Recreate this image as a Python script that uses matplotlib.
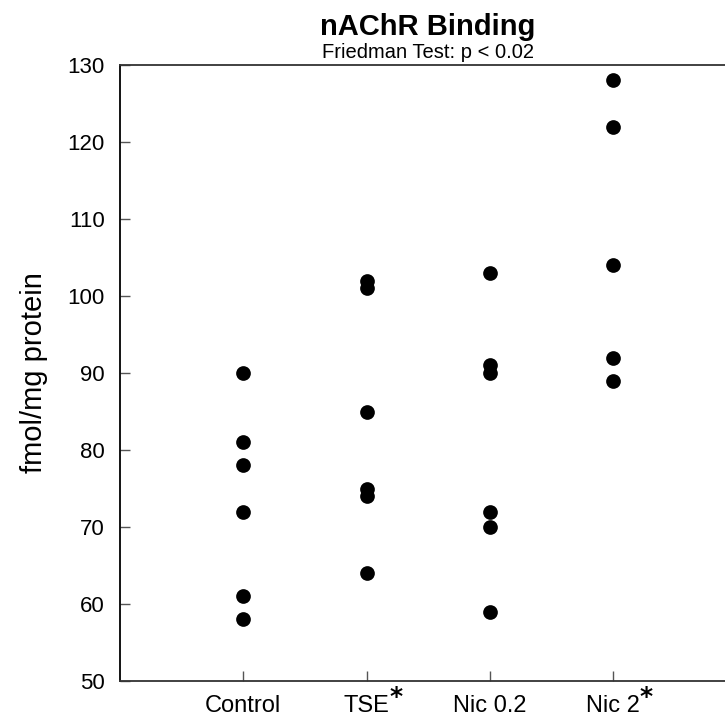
import numpy as np
import matplotlib
matplotlib.use("Agg")
import matplotlib.pyplot as plt

plt.rcParams['font.family'] = ['Liberation Sans', 'DejaVu Sans']

groups = ['Control', 'TSE', 'Nic 0.2', 'Nic 2']
starred = [False, True, False, True]
control = [90, 81, 78, 72, 61, 58]
tse = [102, 101, 85, 75, 74, 64]
nic02 = [103, 91, 90, 72, 70, 59]
nic2 = [128, 122, 104, 92, 89]
values = [control, tse, nic02, nic2]

fig = plt.figure(figsize=(7.25, 7.17), dpi=100)
ax = fig.add_axes([120/725, 1 - 681/717, 740/725, 616/717])

for i, v in enumerate(values):
    ax.scatter([i + 1] * len(v), v, s=112, color='black', zorder=3, linewidths=0)

ax.set_xlim(0, 6)
ax.set_ylim(50, 130)
ax.set_yticks(np.arange(50, 131, 10))
ax.set_xticks([1, 2, 3, 4])
ax.set_xticklabels(groups, fontsize=17)
for lbl in ax.get_xticklabels():
    lbl.set_va('baseline')
ax.tick_params(axis='y', labelsize=16, direction='in', length=7, width=1, color='#555555', pad=11)
ax.tick_params(axis='x', direction='in', length=7, width=1, color='#555555', pad=22)
ax.spines['right'].set_visible(False)
for s in ['left', 'bottom', 'top']:
    ax.spines[s].set_linewidth(1.3)
ax.spines['left'].set_color('black')
ax.spines['bottom'].set_color('#333333')
ax.spines['top'].set_color('#333333')

ax.set_ylabel('fmol/mg protein', fontsize=21, labelpad=14)

fig.text(428/725, 1 - 27/717, 'nAChR Binding', fontsize=21, fontweight='bold',
         ha='center', va='center')
fig.text(428/725, 1 - 53/717, 'Friedman Test: p < 0.02', fontsize=14.5,
         ha='center', va='center')

# bold asterisks after the starred group labels
fig.canvas.draw()
renderer = fig.canvas.get_renderer()
for lbl, star in zip(ax.get_xticklabels(), starred):
    if star:
        bb = lbl.get_window_extent(renderer)
        fig.text((bb.x1 - 0.5) / 725, (bb.y1 - 2) / 717, '*', fontsize=18,
                 fontweight='bold', family='DejaVu Sans', ha='left', va='center')

fig.savefig('out.png', dpi=100)
